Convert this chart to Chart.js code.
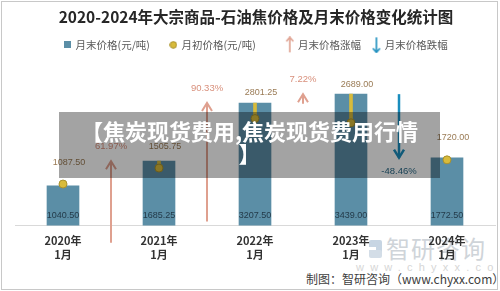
<!DOCTYPE html>
<html>
<head>
<meta charset="utf-8">
<script src="https://cdn.jsdelivr.net/npm/chart.js@4.4.1/dist/chart.umd.min.js"></script>
<style>
html,body{margin:0;padding:0;background:#fff;}
#wrap{position:relative;width:500px;height:291px;overflow:hidden;font-family:'Noto Sans CJK SC',sans-serif;}
#frame{position:absolute;left:1px;top:1px;width:497px;height:289px;border:1px solid #c8c8c8;box-sizing:border-box;}
#mark{position:absolute;left:386px;top:234px;font-size:24px;line-height:28px;color:#cfd4d9;letter-spacing:1px;}
#logoA{position:absolute;left:369px;top:240px;width:13px;height:7px;background:#c7d5e3;border-radius:2px 2px 2px 0;}
#logoB{position:absolute;left:369px;top:250px;width:13px;height:8px;background:#d3dde7;border-radius:0 2px 2px 2px;}
#logoC{position:absolute;left:376px;top:245px;width:6px;height:7px;background:#c7d5e3;}
#url{position:absolute;left:356px;top:260px;font-size:11px;line-height:14px;color:#d6d6d6;letter-spacing:6.2px;font-family:'Liberation Sans',sans-serif;}
#src{position:absolute;left:306px;top:270px;font-size:12px;line-height:18px;color:#404040;}
#cv{position:absolute;left:0;top:0;}
#banner{position:absolute;left:59px;top:112px;width:381px;height:66px;background:rgba(0,0,0,0.36);color:#fff;font-weight:bold;font-size:22px;line-height:22px;text-align:center;padding-top:7px;box-sizing:border-box;}
</style>
</head>
<body>
<div id="wrap">
  <div id="logoA"></div><div id="logoC"></div><div id="logoB"></div>
  <div id="mark">智研咨询</div>
  <div id="url">www.chyxx.com</div>
  <div id="src">制图：智研咨询（www.chyxx.com）</div>
  <canvas id="cv" width="500" height="291"></canvas>
  <div id="frame"></div>
  <div id="banner">【焦炭现货费用,焦炭现货费用行情<br>】</div>
</div>
<script>
'use strict';

// ── data ──────────────────────────────────────────────────────────────────────
const years=[['2020年','1月'],['2021年','1月'],['2022年','1月'],['2023年','1月'],['2024年','1月']];
const endPrice=[1040.50,1685.25,3207.50,3439.00,1772.50];    // 月末价格
const startPrice=[1087.50,1505.75,2801.25,2689.00,1720.00];  // 月初价格
const changePct=[61.97,90.33,7.22,-48.46];                   // 月末价格涨跌幅
const arrowFrom=[-450,110,3190,3439];                        // arrow tail (price units)
const arrowTo=[1685.25,3207.50,3439,1777];                   // arrow head (price units)

const col={bar:'#5b8ea6',dot:'#d8bb3b',dotLine:'#a9912d',up:'#dfa08f',upTxt:'#d88f7b',down:'#1a8dbd',downTxt:'#2c6a88',
  barTxt:'#233a49',startTxt:'#9a7b55',axis:'#d9d9d9'};
const cjk="'Noto Sans CJK SC',sans-serif";
const num="'Liberation Sans',sans-serif";

// legend icons
function icon(w,h,fn){const c=document.createElement('canvas');c.width=w;c.height=h;fn(c.getContext('2d'));return c;}
const icSquare=icon(7,7,g=>{g.fillStyle=col.bar;g.fillRect(0,0,7,7);});
const icDot=icon(8,8,g=>{g.fillStyle=col.dot;g.strokeStyle=col.dotLine;g.beginPath();g.arc(4,4,3.3,0,Math.PI*2);g.fill();g.stroke();});
function arrowIcon(color,up){
  return icon(10,17,g=>{g.strokeStyle=color;g.lineWidth=1.6;g.beginPath();g.moveTo(5,1);g.lineTo(5,16);g.stroke();
    g.beginPath();if(up){g.moveTo(1.5,5);g.lineTo(5,1);g.lineTo(8.5,5);}else{g.moveTo(1.5,12);g.lineTo(5,16);g.lineTo(8.5,12);}g.stroke();});
}
const icUp=arrowIcon(col.up,true), icDown=arrowIcon(col.down,false);
// trailing blanks widen the uneven gaps between legend entries
const legendItems=[
  {text:'月末价格(元/吨)\u3000',pointStyle:icSquare},
  {text:'月初价格(元/吨)\u3000\u3000',pointStyle:icDot},
  {text:'月末价格涨幅 ',pointStyle:icUp},
  {text:'月末价格跌幅',pointStyle:icDown}
];

// value labels + change arrows
const annot={id:'annot',afterDatasetsDraw(ch){
  const {ctx,scales:{x,y}}=ch;
  ctx.save();
  ctx.textAlign='center';ctx.textBaseline='middle';
  ctx.font=`9px ${num}`;ctx.fillStyle=col.barTxt;
  endPrice.forEach((v,i)=>ctx.fillText(v.toFixed(2),x.getPixelForValue(i),y.getPixelForValue(0)-10));
  ctx.fillStyle=col.startTxt;
  startPrice.forEach((v,i)=>{
    const py=Math.min(y.getPixelForValue(v)-22,y.getPixelForValue(endPrice[i])-10);
    ctx.fillText(v.toFixed(2),x.getPixelForValue(i)+6,py);
  });
  changePct.forEach((p,i)=>{
    const px=(x.getPixelForValue(i)+x.getPixelForValue(i+1))/2;
    const y0=y.getPixelForValue(arrowFrom[i]), y1=y.getPixelForValue(arrowTo[i]);
    const up=p>0, d=up?1:-1;
    ctx.strokeStyle=up?col.up:col.down;ctx.lineWidth=up?2:2.5;
    ctx.beginPath();ctx.moveTo(px,y0);ctx.lineTo(px,y1);ctx.stroke();
    ctx.beginPath();ctx.moveTo(px-5,y1+8*d);ctx.lineTo(px,y1);ctx.lineTo(px+5,y1+8*d);ctx.stroke();
    ctx.font=`9.5px ${num}`;ctx.fillStyle=up?col.upTxt:col.downTxt;
    ctx.fillText(p.toFixed(2)+'%',px,up?y1-15:y1+14);
  });
  ctx.restore();
}};

new Chart(document.getElementById('cv'),{
  data:{labels:years,datasets:[
    {type:'line',label:'月初价格(元/吨)',data:startPrice,showLine:false,pointRadius:4,pointHoverRadius:4,
      pointBackgroundColor:col.dot,pointBorderColor:col.dotLine,pointBorderWidth:1,order:0},
    {type:'bar',label:'range',data:startPrice.map((s,i)=>[s,endPrice[i]]),backgroundColor:col.dot,barThickness:3,grouped:false,order:1},
    {type:'bar',label:'月末价格(元/吨)',data:endPrice,backgroundColor:col.bar,barThickness:32,grouped:false,order:2}
  ]},
  options:{
    responsive:false,animation:false,
    layout:{padding:{top:4,left:15,right:3,bottom:21}},
    plugins:{
      title:{display:true,text:'2020-2024年大宗商品-石油焦价格及月末价格变化统计图',color:'#262626',
        font:{family:cjk,size:15.5,weight:'bold'},padding:{top:4,bottom:3}},
      legend:{display:true,onClick:null,labels:{usePointStyle:true,pointStyleWidth:6,padding:10,color:'#595959',
        font:{family:cjk,size:10.5},generateLabels:()=>legendItems.map(it=>({text:it.text,pointStyle:it.pointStyle,fontColor:'#595959',lineWidth:0,hidden:false}))}},
      tooltip:{enabled:false}
    },
    scales:{
      x:{grid:{display:false,drawTicks:false},border:{display:true,color:col.axis,width:1},
        ticks:{color:'#333',font:{family:cjk,size:11,weight:'bold'},padding:9,maxRotation:0}},
      y:{display:false,min:0,max:4330}
    }
  },
  plugins:[annot]
});
</script>
</body>
</html>
